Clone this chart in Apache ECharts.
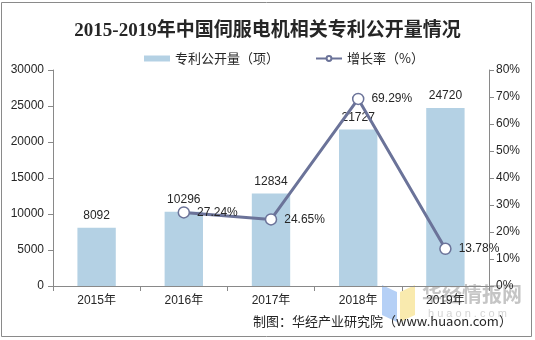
<!DOCTYPE html>
<html><head><meta charset="utf-8">
<script src="https://cdn.jsdelivr.net/npm/echarts@6/dist/echarts.min.js"></script>
<style>html,body{margin:0;padding:0;background:#fff}#c{width:535px;height:340px}</style>
</head><body><div id="c"></div>
<script>
const categories = ['2015年','2016年','2017年','2018年','2019年'];
const patents = [8092, 10296, 12834, 21727, 24720];
const growth = [null, 27.24, 24.65, 69.29, 13.78];
const leftTicks = [0, 5000, 10000, 15000, 20000, 25000, 30000];
const rightTicks = [0, 10, 20, 30, 40, 50, 60, 70, 80];

const chart = echarts.init(document.getElementById('c'));
const txt = '#262626';
const axisCol = '#898989';
chart.setOption({
  animation: false,
  backgroundColor: '#fff',
  title: {
    text: '2015-2019年中国伺服电机相关专利公开量情况',
    left: 'center', top: 17,
    textStyle: {fontFamily: "'Liberation Serif','Noto Sans CJK SC'", fontWeight: 'bold', fontSize: 19, color: '#262626'}
  },
  legend: {
    top: 47, left: 139, itemGap: 36, itemWidth: 26, itemHeight: 6,
    textStyle: {fontFamily: "'Noto Sans CJK SC'", fontSize: 13, color: txt},
    data: [{name: '专利公开量（项）', icon: 'rect'}, {name: '增长率（%）'}]
  },
  grid: {left: 53, right: 46, top: 70, bottom: 54},
  xAxis: {
    type: 'category', data: categories,
    axisLine: {lineStyle: {color: axisCol}},
    axisTick: {show: true, alignWithLabel: false, length: 5, lineStyle: {color: axisCol}},
    axisLabel: {color: txt, fontSize: 12, fontFamily: "'Liberation Sans','Noto Sans CJK SC'", margin: 9}
  },
  yAxis: [{
    type: 'value', min: leftTicks[0], max: leftTicks[leftTicks.length-1], interval: 5000,
    axisLine: {show: true, lineStyle: {color: axisCol}},
    axisTick: {show: true, length: 5, lineStyle: {color: axisCol}},
    splitLine: {show: false},
    axisLabel: {color: txt, fontSize: 12, fontFamily: "'Liberation Sans'", margin: 9, formatter: v => String(v)}
  }, {
    type: 'value', min: rightTicks[0], max: rightTicks[rightTicks.length-1], interval: 10,
    axisLine: {show: true, lineStyle: {color: axisCol}},
    axisTick: {show: true, length: 5, lineStyle: {color: axisCol}},
    splitLine: {show: false},
    axisLabel: {color: txt, fontSize: 12, fontFamily: "'Liberation Sans'", margin: 7, formatter: '{value}%'}
  }],
  series: [{
    name: '专利公开量（项）', type: 'bar', data: patents, barWidth: '44%',
    itemStyle: {color: '#b4d1e4'},
    label: {show: true, position: 'top', distance: 6, color: txt, fontSize: 12, fontFamily: "'Liberation Sans'"}
  }, {
    name: '增长率（%）', type: 'line', yAxisIndex: 1, data: growth,
    symbol: 'circle', symbolSize: 11, connectNulls: false,
    lineStyle: {color: '#6b7399', width: 3},
    itemStyle: {color: '#fff', borderColor: '#6b7399', borderWidth: 1.5},
    label: {show: true, position: 'right', distance: 7, color: txt, fontSize: 12, fontFamily: "'Liberation Sans'",
      formatter: p => p.value.toFixed(2) + '%'}
  }],
  graphic: [
    {type: 'rect', shape: {x: 1.5, y: 2.5, width: 530, height: 334}, style: {fill: 'none', stroke: '#8a8a8a', lineWidth: 1}, silent: true, z: -1},
    {type: 'polygon', shape: {points: [[382,285],[397,292],[397,322],[382,315]]}, style: {fill: '#a8c8f5', opacity: 0.85}, z: 0},
    {type: 'polygon', shape: {points: [[400,292],[415,285],[415,315],[400,322]]}, style: {fill: '#f8e6a0', opacity: 0.85}, z: 0},
    {type: 'text', left: 422, top: 284, style: {text: '华经情报网', font: "bold 20px 'Noto Sans CJK SC'", fill: 'rgba(150,150,150,0.55)'}, z: 0},
    {type: 'text', left: 428, top: 308, style: {text: 'h u a o n . c o m', font: "11px 'Liberation Sans'", fill: 'rgba(170,170,170,0.5)'}, z: 0},
    {type: 'text', left: 253, top: 315, style: {text: '制图：华经产业研究院（www.huaon.com）', font: "13px 'Noto Sans CJK SC'", fill: txt}, z: 10}
  ]
});
</script></body></html>
